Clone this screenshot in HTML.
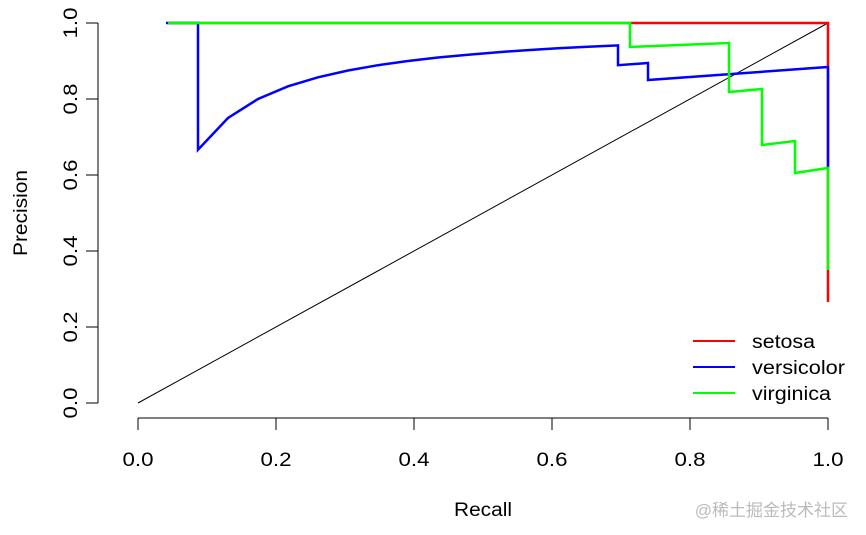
<!DOCTYPE html>
<html><head><style>body{margin:0;background:#fff}svg{display:block}</style></head><body>
<svg width="866" height="535" xmlns="http://www.w3.org/2000/svg" font-family="Liberation Sans, DejaVu Sans, sans-serif">
<rect width="866" height="535" fill="#fff"/>
<g stroke="#000" stroke-width="1" fill="none">
<path d="M138,418H828M138,418v12M276,418v12M414,418v12M552,418v12M690,418v12M828,418v12"/>
<path d="M98,23V403M98,23h-12M98,99h-12M98,175h-12M98,251h-12M98,327h-12M98,403h-12"/>
<path d="M138,403L828,23"/>
</g>
<g font-size="19" fill="#000" text-anchor="middle" lengthAdjust="spacingAndGlyphs">
<text x="138" y="466" textLength="31" lengthAdjust="spacingAndGlyphs">0.0</text><text x="276" y="466" textLength="31" lengthAdjust="spacingAndGlyphs">0.2</text><text x="414" y="466" textLength="31" lengthAdjust="spacingAndGlyphs">0.4</text><text x="552" y="466" textLength="31" lengthAdjust="spacingAndGlyphs">0.6</text><text x="690" y="466" textLength="31" lengthAdjust="spacingAndGlyphs">0.8</text><text x="828" y="466" textLength="31" lengthAdjust="spacingAndGlyphs">1.0</text>
<g transform="rotate(-90)">
<text x="-403" y="77" textLength="31" lengthAdjust="spacingAndGlyphs">0.0</text><text x="-327" y="77" textLength="31" lengthAdjust="spacingAndGlyphs">0.2</text><text x="-251" y="77" textLength="31" lengthAdjust="spacingAndGlyphs">0.4</text><text x="-175" y="77" textLength="31" lengthAdjust="spacingAndGlyphs">0.6</text><text x="-99" y="77" textLength="31" lengthAdjust="spacingAndGlyphs">0.8</text><text x="-23" y="77" textLength="31" lengthAdjust="spacingAndGlyphs">1.0</text>
<text x="-213" y="27" textLength="86" lengthAdjust="spacingAndGlyphs">Precision</text>
</g>
<text x="483" y="516" textLength="58" lengthAdjust="spacingAndGlyphs">Recall</text>
</g>
<text x="848" y="516" font-size="17" fill="#bbb" text-anchor="end" font-family="Liberation Sans, Noto Sans CJK SC, sans-serif">@稀土掘金技术社区</text>
<g fill="none" stroke-width="2.5" stroke-linejoin="miter">
<path stroke="#f00" d="M168,23H828V302"/>
<path stroke="#00f" d="M166,23H198V149.7L228,118L258,99L288,86.3L318,77.3L348,70.5L378,65.2L408,61L438,57.5L468,54.7L498,52.2L528,50.1L558,48.3L588,46.8L618,45.4V65.2L648,63V80L828,67V168"/>
<path stroke="#0f0" d="M168,23H630V47L729,43V92L762,89V145L795,141V173L828,168V270"/>
</g>
<g stroke-width="2">
<line x1="693" y1="341" x2="735" y2="341" stroke="#f00"/>
<line x1="693" y1="367" x2="735" y2="367" stroke="#00f"/>
<line x1="693" y1="393" x2="735" y2="393" stroke="#0f0"/>
</g>
<g font-size="19" fill="#000">
<text x="752" y="348" textLength="63" lengthAdjust="spacingAndGlyphs">setosa</text><text x="752" y="374" textLength="93" lengthAdjust="spacingAndGlyphs">versicolor</text><text x="752" y="400" textLength="79" lengthAdjust="spacingAndGlyphs">virginica</text>
</g>
</svg>
</body></html>
